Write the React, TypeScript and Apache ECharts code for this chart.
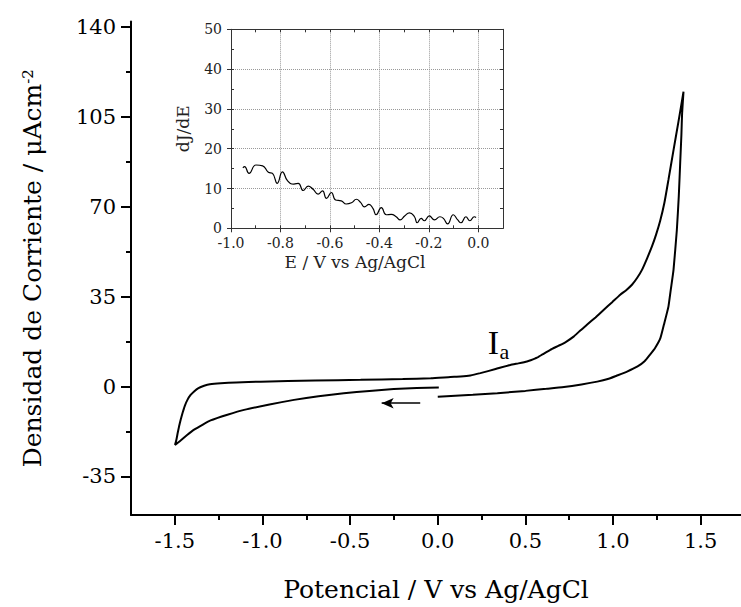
import React, { useEffect, useRef } from "react";
import * as echarts from "echarts";

// Main cyclic voltammogram (in drawing order)
const cvPotential = [
  0.0, 0.1, 0.2, 0.34, 0.5, 0.62, 0.72, 0.82, 0.91, 0.97, 1.02, 1.08, 1.14, 1.18, 1.21, 1.24, 1.27, 1.29, 1.316, 1.33,
  1.345, 1.364, 1.375, 1.383, 1.39, 1.394, 1.402,
  1.388, 1.373, 1.345, 1.316, 1.293, 1.269, 1.245, 1.222, 1.195, 1.165, 1.138, 1.108, 1.075, 1.041, 0.995, 0.946,
  0.9, 0.851, 0.81, 0.775, 0.73, 0.69, 0.642, 0.6, 0.566, 0.53, 0.509, 0.46, 0.414, 0.33, 0.243, 0.186, 0.13, 0.072,
  -0.04, -0.2, -0.44, -0.7, -1.01, -1.15, -1.238, -1.3, -1.333, -1.365, -1.39, -1.41, -1.428, -1.443, -1.456, -1.467,
  -1.476, -1.484, -1.491, -1.499,
  -1.47, -1.43, -1.39, -1.34, -1.296, -1.2, -1.105, -0.96, -0.82, -0.68, -0.536, -0.39, -0.251, -0.12, 0.006,
];
const cvCurrent = [
  -4.0, -3.6, -3.2, -2.6, -1.7, -0.9, -0.2, 0.8, 1.9, 2.9, 4.2, 5.8, 7.8, 9.8, 12.3, 15.0, 18.8, 24.0, 31.1, 38.0,
  45.4, 60.9, 74.0, 86.9, 98.0, 106.3, 114.7,
  109.0, 103.0, 92.0, 80.4, 71.5, 64.5, 59.0, 54.5, 50.0, 45.4, 42.3, 39.6, 37.5, 35.7, 32.8, 29.8,
  26.9, 24.0, 21.6, 19.4, 17.3, 15.9, 14.3, 12.6, 11.2, 10.2, 9.7, 9.0, 8.4, 6.8, 5.2, 4.3, 3.9, 3.7,
  3.2, 2.9, 2.6, 2.3, 1.9, 1.6, 1.3, 0.9, 0.3, -0.6, -1.9, -3.3, -5.2, -7.5, -10.3, -13.0,
  -15.6, -18.2, -20.7, -22.7,
  -21.2, -18.9, -16.8, -14.8, -13.2, -11.0, -9.1, -7.0, -5.2, -3.8, -2.6, -1.7, -1.0, -0.6, -0.4,
];

// Inset derivative curve
const insetE = [
  -0.952, -0.945, -0.927, -0.899, -0.872, -0.849, -0.832, -0.813, -0.792, -0.771, -0.746, -0.728, -0.708, -0.688,
  -0.668, -0.648, -0.63, -0.614, -0.594, -0.577, -0.554, -0.534, -0.513, -0.493, -0.476, -0.46, -0.442, -0.426,
  -0.413, -0.392, -0.372, -0.352, -0.332, -0.316, -0.298, -0.278, -0.258, -0.247, -0.231, -0.218, -0.198, -0.177,
  -0.155, -0.141, -0.124, -0.101, -0.083, -0.07, -0.05, -0.034, -0.016, -0.009,
];
const insetDJ = [
  15.2, 15.5, 13.8, 15.9, 15.7, 14.1, 13.8, 11.3, 14.2, 11.9, 11.1, 11.3, 9.5, 10.6,
  9.8, 8.6, 9.4, 7.5, 9.0, 7.1, 6.9, 6.1, 6.4, 7.3, 6.5, 5.4, 6.0, 5.0,
  3.4, 5.2, 3.4, 3.5, 2.9, 2.1, 3.1, 3.9, 2.9, 1.4, 2.5, 1.9, 3.1, 2.1,
  2.9, 2.5, 1.1, 3.4, 2.1, 1.4, 2.9, 1.9, 2.9, 2.7,
];

// Tick values
const mainXMajor = [-1.5, -1.0, -0.5, 0.0, 0.5, 1.0, 1.5];
const mainXMinor = [-1.25, -0.75, -0.25, 0.25, 0.75, 1.25];
const mainYMajor = [-35, 0, 35, 70, 105, 140];
const mainYMinor = [-17.5, 17.5, 52.5, 87.5, 122.5];

// Annotations (data coordinates)
const arrowFrom = [-0.1, -6.5];
const arrowTo = [-0.32, -6.5];
const peakLabelI = [0.285, 10.6];
const peakLabelA = [0.352, 9.4];

const SERIF = "'DejaVu Serif', serif";
const TIMES = "'Liberation Serif', 'Times New Roman', serif";

export default function App() {
  const ref = useRef<HTMLDivElement>(null);
  useEffect(() => {
    if (!ref.current) return;
    const chart = echarts.init(ref.current, undefined, { renderer: "svg" });
    const cvData = cvPotential.map((x, i) => [x, cvCurrent[i]]);
    const insetData = insetE.map((x, i) => [x, insetDJ[i]]);
    const black = "#000";
    const insetColor = "#333";
    const noLabel = { show: false };

    chart.setOption({
      animation: false,
      backgroundColor: "#fff",
      grid: [
        { left: 131, right: 0, top: 21.6, bottom: 91.7 },
        { left: 231, right: 238, top: 29.3, bottom: 378.7 },
      ],
      xAxis: [
        {
          gridIndex: 0, type: "value", position: "bottom", min: -1.75, max: 1.73,
          axisLine: { onZero: false, lineStyle: { color: black, width: 2 } },
          axisTick: { customValues: mainXMajor, length: 10, lineStyle: { color: black, width: 2 } },
          axisLabel: {
            customValues: mainXMajor, margin: 15, color: black, fontFamily: SERIF, fontSize: 21,
            formatter: (v: number) => v.toFixed(1),
          },
          splitLine: { show: false },
          name: "Potencial / V vs Ag/AgCl", nameLocation: "middle", nameGap: 62,
          nameTextStyle: { color: black, fontFamily: SERIF, fontSize: 25 },
        },
        {
          gridIndex: 0, type: "value", position: "bottom", min: -1.75, max: 1.73,
          axisLine: { show: false, onZero: false },
          axisTick: { customValues: mainXMinor, length: 5, lineStyle: { color: black, width: 2 } },
          axisLabel: noLabel, splitLine: { show: false },
        },
        {
          gridIndex: 1, type: "value", position: "bottom", min: -1.0, max: 0.1, interval: 0.2,
          axisLine: { onZero: false, lineStyle: { color: insetColor, width: 1 } },
          axisTick: { length: 4, lineStyle: { color: insetColor } },
          axisLabel: {
            margin: 8, color: "#222", fontFamily: SERIF, fontSize: 14, showMaxLabel: false,
            formatter: (v: number) => (v > 0.05 ? "" : v.toFixed(1)),
          },
          splitLine: { show: true, lineStyle: { color: "#999", type: [1, 1], width: 1 } },
          name: "E / V vs Ag/AgCl", nameLocation: "middle", nameGap: 25,
          nameTextStyle: { color: "#222", fontFamily: SERIF, fontSize: 17, padding: [0, 24, 0, 0] },
        },
        {
          gridIndex: 1, type: "value", position: "bottom", min: -1.0, max: 0.1, interval: 0.1,
          axisLine: { show: false, onZero: false },
          axisTick: { inside: true, length: 3, lineStyle: { color: insetColor } },
          axisLabel: noLabel, splitLine: { show: false },
        },
        {
          gridIndex: 1, type: "value", position: "top", min: -1.0, max: 0.1, interval: 0.1,
          axisLine: { onZero: false, lineStyle: { color: insetColor, width: 1 } },
          axisTick: { inside: true, length: 3, lineStyle: { color: insetColor } },
          axisLabel: noLabel, splitLine: { show: false },
        },
      ],
      yAxis: [
        {
          gridIndex: 0, type: "value", position: "left", min: -50, max: 142,
          axisLine: { show: true, onZero: false, lineStyle: { color: black, width: 2 } },
          axisTick: { show: true, customValues: mainYMajor, length: 10, lineStyle: { color: black, width: 2 } },
          axisLabel: { customValues: mainYMajor, margin: 15, color: black, fontFamily: SERIF, fontSize: 21 },
          splitLine: { show: false },
          name: "{n|Densidad de Corriente / μAcm}{s|-2}", nameLocation: "middle", nameGap: 86,
          nameTextStyle: {
            color: black, fontFamily: SERIF, fontSize: 25,
            rich: {
              n: { color: black, fontFamily: SERIF, fontSize: 25 },
              s: { color: black, fontFamily: SERIF, fontSize: 15, verticalAlign: "top" },
            },
          },
        },
        {
          gridIndex: 0, type: "value", position: "left", min: -50, max: 142,
          axisLine: { show: false, onZero: false },
          axisTick: { show: true, customValues: mainYMinor, length: 5, lineStyle: { color: black, width: 2 } },
          axisLabel: noLabel, splitLine: { show: false },
        },
        {
          gridIndex: 1, type: "value", position: "left", min: 0, max: 50, interval: 10,
          axisLine: { show: true, onZero: false, lineStyle: { color: insetColor, width: 1 } },
          axisTick: { show: true, length: 4, lineStyle: { color: insetColor } },
          axisLabel: { margin: 9, color: "#222", fontFamily: SERIF, fontSize: 14 },
          splitLine: { show: true, lineStyle: { color: "#999", type: [1, 1], width: 1 } },
          name: "dJ/dE", nameLocation: "middle", nameGap: 40,
          nameTextStyle: { color: "#222", fontFamily: SERIF, fontSize: 17 },
        },
        {
          gridIndex: 1, type: "value", position: "left", min: 0, max: 50, interval: 5,
          axisLine: { show: false, onZero: false },
          axisTick: { show: true, inside: true, length: 3, lineStyle: { color: insetColor } },
          axisLabel: noLabel, splitLine: { show: false },
        },
        {
          gridIndex: 1, type: "value", position: "right", min: 0, max: 50, interval: 5,
          axisLine: { show: true, onZero: false, lineStyle: { color: insetColor, width: 1 } },
          axisTick: { show: true, inside: true, length: 3, lineStyle: { color: insetColor } },
          axisLabel: noLabel, splitLine: { show: false },
        },
      ],
      series: [
        {
          type: "line", xAxisIndex: 0, yAxisIndex: 0, data: cvData,
          showSymbol: false, symbol: "none", smooth: 0.15,
          lineStyle: { color: black, width: 2 },
          markLine: {
            silent: true, symbol: ["none", "arrow"], symbolSize: [8, 12],
            label: { show: false },
            lineStyle: { color: black, width: 1.5, type: "solid" },
            data: [[{ coord: arrowFrom }, { coord: arrowTo }]],
          },
          markPoint: {
            silent: true, symbol: "circle", symbolSize: 0.1,
            itemStyle: { color: "transparent" },
            data: [
              {
                coord: peakLabelI,
                label: {
                  show: true, formatter: "I", position: [0, 0], align: "left", verticalAlign: "bottom",
                  color: black, fontFamily: TIMES, fontSize: 34,
                },
              },
              {
                coord: peakLabelA,
                label: {
                  show: true, formatter: "a", position: [0, 0], align: "left", verticalAlign: "bottom",
                  color: black, fontFamily: TIMES, fontSize: 22,
                },
              },
            ],
          },
        },
        {
          type: "line", xAxisIndex: 2, yAxisIndex: 2, data: insetData,
          showSymbol: false, symbol: "none", smooth: true,
          lineStyle: { color: black, width: 1.2 },
        },
      ],
    });
    return () => chart.dispose();
  }, []);
  return (
    <div
      ref={ref}
      style={{ position: "fixed", left: 0, top: 0, width: 741, height: 607, background: "#fff" }}
    />
  );
}
